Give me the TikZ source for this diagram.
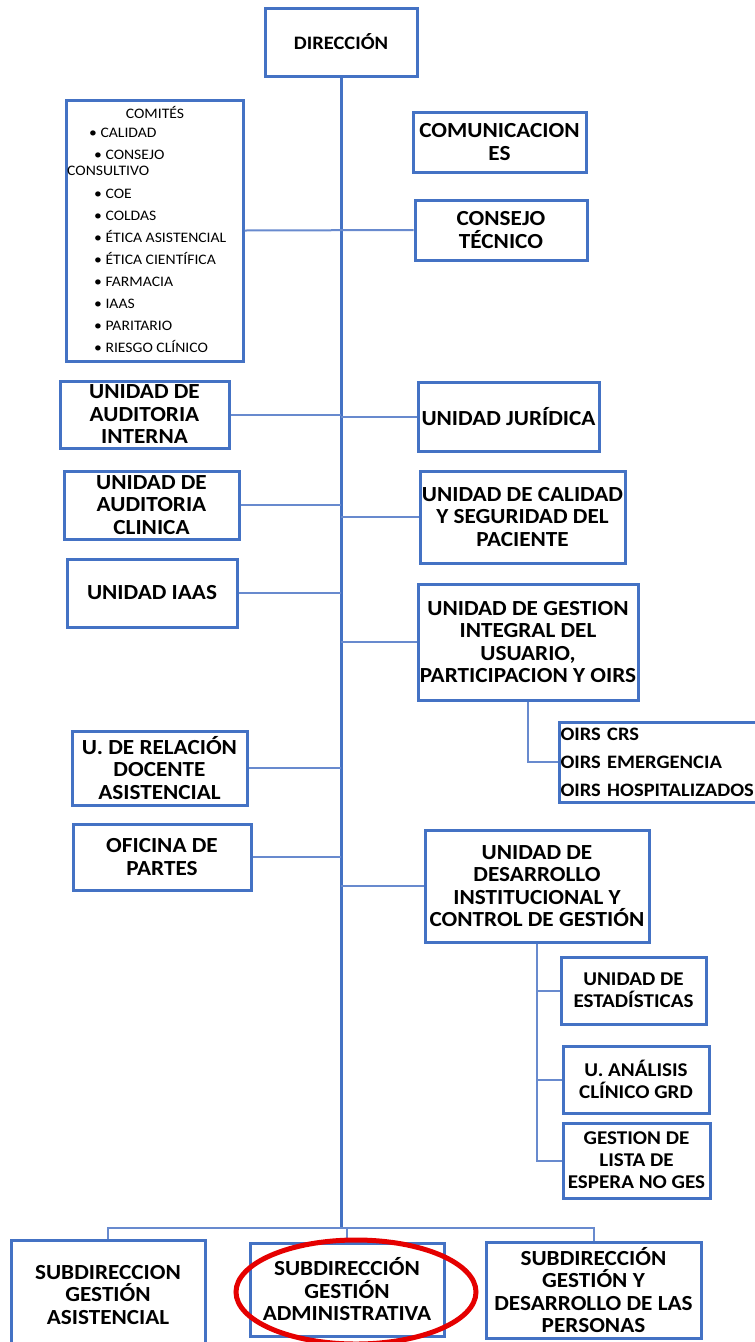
\documentclass[tikz,border=0pt]{standalone}
\usepackage{fontspec}
\setmainfont[FakeStretch=1.08]{Carlito}
\usetikzlibrary{positioning}
\definecolor{boxblue}{RGB}{68,114,196}
\definecolor{linkblue}{RGB}{104,138,206}
\begin{document}
\begin{tikzpicture}
    [x=1pt,y=-1pt,
    unit/.style={rectangle,draw=boxblue,line width=3pt,fill=white,
      align=center,inner sep=1pt,font=\fontsize{21.5}{22.5}\selectfont\bfseries},
    subunit/.style={unit,font=\fontsize{19.5}{22}\selectfont\bfseries},
    link/.style={draw=linkblue,line width=2pt},
    mainline/.style={draw=boxblue,line width=3pt},
    listtext/.style={inner sep=0pt,align=left,font=\fontsize{14.5}{22}\selectfont}]

    \useasboundingbox (0,0) rectangle (755,1342);

    \node[unit,minimum width=152,minimum height=68,
      font=\fontsize{19}{22}\selectfont\bfseries] (dir)    at (341,42)      {DIRECCIÓN};
    \node[unit,minimum width=173,minimum height=60] (comunic)  at (499.5,142)   {COMUNICACION\\ES};
    \node[unit,minimum width=172,minimum height=60] (ctecnico) at (501,230)     {CONSEJO\\TÉCNICO};
    \node[unit,minimum width=177,minimum height=261] (comites) at (154.5,230.5) {};
    \node[listtext] (comtitle) at (155,112) {COMITÉS};
    \node[listtext,anchor=north west] (comlist) at (67,128)
      {\hspace*{22pt}• CALIDAD\\
       \hspace*{27pt}• CONSEJO\\[-6pt]
       CONSULTIVO\\[1pt]
       \hspace*{27pt}• COE\\
       \hspace*{27pt}• COLDAS\\
       \hspace*{27pt}• ÉTICA ASISTENCIAL\\
       \hspace*{27pt}• ÉTICA CIENTÍFICA\\
       \hspace*{27pt}• FARMACIA\\
       \hspace*{27pt}• IAAS\\
       \hspace*{27pt}• PARITARIO\\
       \hspace*{27pt}• RIESGO CLÍNICO};

    \node[unit,minimum width=169,minimum height=67] (audint)  at (144.5,414.5) {UNIDAD DE\\AUDITORIA\\INTERNA};
    \node[unit,minimum width=175,minimum height=68] (audcli)  at (151.5,505)   {UNIDAD DE\\AUDITORIA\\CLINICA};
    \node[unit,minimum width=170,minimum height=68] (uiaas)   at (152,593)     {UNIDAD IAAS};
    \node[unit,minimum width=181,minimum height=69] (juridica) at (508.5,416.5) {UNIDAD JURÍDICA};
    \node[unit,minimum width=205,minimum height=92] (calidad) at (522.5,517)   {UNIDAD DE CALIDAD\\Y SEGURIDAD DEL\\PACIENTE};
    \node[unit,minimum width=220,minimum height=116] (usuario) at (528,642)    {UNIDAD DE GESTION\\INTEGRAL DEL\\USUARIO,\\PARTICIPACION Y OIRS};
    \node[unit,anchor=west,text width=200,align=left,minimum height=80,
      font=\fontsize{19}{28}\selectfont\bfseries] (oirs) at (558,762)
      {OIRS CRS\\OIRS EMERGENCIA\\OIRS HOSPITALIZADOS};
    \node[unit,minimum width=175,minimum height=74] (docente) at (159.5,768)   {U. DE RELACIÓN\\DOCENTE\\ASISTENCIAL};
    \node[unit,minimum width=178,minimum height=66] (partes)  at (162,857)     {OFICINA DE\\PARTES};
    \node[unit,minimum width=224,minimum height=112] (desarrollo) at (537,886) {UNIDAD DE\\DESARROLLO\\INSTITUCIONAL Y\\CONTROL DE GESTIÓN};
    \node[subunit,minimum width=145,minimum height=67] (estad)  at (633.5,990.5)  {UNIDAD DE\\ESTADÍSTICAS};
    \node[subunit,minimum width=146,minimum height=67] (grd)    at (636,1079.5)   {U. ANÁLISIS\\CLÍNICO GRD};
    \node[subunit,minimum width=147,minimum height=75] (espera) at (636.5,1160.5) {GESTION DE\\LISTA DE\\ESPERA NO GES};
    \node[unit,minimum width=194,minimum height=110] (sasist) at (108,1295)    {SUBDIRECCION\\GESTIÓN\\ASISTENCIAL};
    \node[unit,minimum width=194,minimum height=93] (sadmin)  at (347,1289.5)  {SUBDIRECCIÓN\\GESTIÓN\\ADMINISTRATIVA};
    \node[unit,minimum width=215,minimum height=96] (spers)   at (593.5,1290)  {SUBDIRECCIÓN\\GESTIÓN Y\\DESARROLLO DE LAS\\PERSONAS};

    \coordinate (fork) at (341,1228);

    % trunk and branches
    \draw[mainline] (dir.south) -- (fork);
    \draw[link] (comites.east) -- (ctecnico.west);
    \foreach \n in {audint,audcli,uiaas,docente,partes}
      \draw[link] (\n.east) -- (\n.east -| dir.south);
    \foreach \n in {juridica,calidad,usuario,desarrollo}
      \draw[link] (\n.west) -- (\n.west -| dir.south);
    \draw[link] (usuario.south) |- (oirs.west);
    \foreach \n in {estad,grd,espera}
      \draw[link] (desarrollo.south) |- (\n.west);
    \draw[link] (sasist.north) |- (fork) -| (spers.north);
    \draw[link] (sadmin.north) -- (sadmin.north |- fork);

    \draw[red!90!black,line width=5pt] (356,1292) ellipse (120 and 52);

  \end{tikzpicture}
\end{document}
